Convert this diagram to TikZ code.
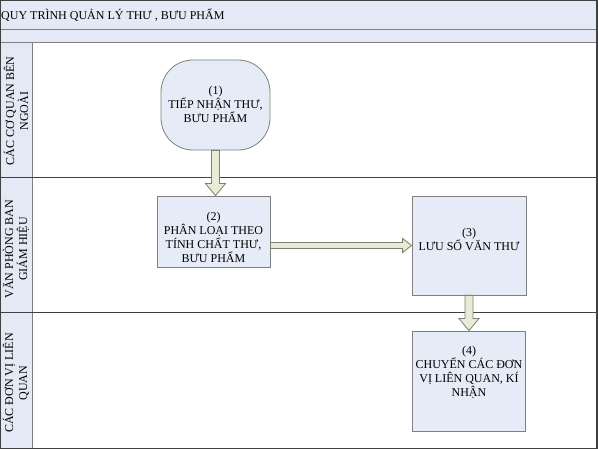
\documentclass[tikz,border=0pt]{standalone}
\usepackage{fontspec}
\setmainfont{Liberation Serif}
\usetikzlibrary{calc}
\definecolor{bandfill}{HTML}{E4EAF5}
\definecolor{boxfill}{HTML}{E6ECF7}
\definecolor{boxdraw}{HTML}{7F7F7F}
\definecolor{arrfill}{HTML}{E8ECD6}
\definecolor{arrdraw}{HTML}{7F7F72}
\definecolor{linecol}{HTML}{404040}
\tikzset{
  txt/.style={font=\fontsize{12}{14}\selectfont, align=center, text=black},
  procbox/.style={draw=boxdraw, fill=boxfill, line width=0.8pt, inner sep=2pt},
  blockarrow/.style={draw=arrdraw, fill=arrfill, line width=0.8pt, line join=miter},
  laneline/.style={draw=linecol, line width=1pt},
  heavyline/.style={draw=boxdraw, line width=1.6pt}
}
\newcommand\varrow[2]{\path[blockarrow] let \p1=(#1), \p2=(#2) in
  (\x1-4pt,\y1) -- (\x1-4pt,\y2+12pt) -- (\x1-10pt,\y2+12pt) -- (\x1,\y2) --
  (\x1+10pt,\y2+12pt) -- (\x1+4pt,\y2+12pt) -- (\x1+4pt,\y1) -- cycle;}
\newcommand\harrow[2]{\path[blockarrow] let \p1=(#1), \p2=(#2) in
  (\x1,\y1+3pt) -- (\x2-9pt,\y1+3pt) -- (\x2-9pt,\y1+7pt) -- (\x2,\y1) --
  (\x2-9pt,\y1-7pt) -- (\x2-9pt,\y1-3pt) -- (\x1,\y1-3pt) -- cycle;}
\begin{document}
\begin{tikzpicture}[x=1pt,y=-1pt]
\useasboundingbox (0,0) rectangle (598,449);
\fill[white] (0,0) rectangle (598,449);
% title bands
\fill[bandfill] (0,0) rectangle (597,29);
\fill[bandfill] (0,30) rectangle (597,42);
\fill[bandfill] (0,43) rectangle (32,449);
\node[txt, anchor=west, inner sep=0pt] (title) at (1,15) {QUY TRÌNH QUẢN LÝ THƯ , BƯU PHẨM};
\draw[heavyline] (0,29.5) -- (597,29.5);
\draw[heavyline] (0,42.5) -- (597,42.5);
\draw[heavyline] (32.5,43) -- (32.5,449);
\draw[laneline] (0,178) -- (597,178);
\draw[laneline] (0,313) -- (597,313);
\draw[linecol, line width=1.6pt] (597,0) -- (597,449);
\draw[linecol, line width=1pt] (0.5,0) -- (0.5,449);
\draw[linecol, line width=1pt] (0,0.5) -- (597,0.5);
\draw[linecol, line width=1pt] (0,448.5) -- (597,448.5);
% lane labels
\node[txt, rotate=90] (lane1) at (16,111) {CÁC CƠ QUAN BÊN\\NGOÀI};
\node[txt, rotate=90] (lane2) at (16,249) {VĂN PHÒNG BAN\\GIÁM HIỆU};
\node[txt, rotate=90] (lane3) at (16,383) {CÁC ĐƠN VỊ LIÊN\\QUAN};
% process nodes
\node[procbox, rounded corners=32pt, minimum width=109pt, minimum height=90pt] (n1) at (215.5,105) {};
\node[txt] (n1t) at (215.5,104) {(1)\\TIẾP NHẬN THƯ,\\BƯU PHẨM};
\node[procbox, minimum width=113pt, minimum height=71pt] (n2) at (213.5,231.5) {};
\node[txt] (n2t) at (213.5,237.5) {(2)\\PHÂN LOẠI THEO\\TÍNH CHẤT THƯ,\\BƯU PHẨM};
\node[procbox, minimum width=114pt, minimum height=99pt] (n3) at (469,245.5) {};
\node[txt] (n3t) at (469,239.5) {(3)\\LƯU SỔ VĂN THƯ};
\node[procbox, minimum width=113pt, minimum height=100pt] (n4) at (469,381) {};
\node[txt] (n4t) at (469,372) {(4)\\CHUYỂN CÁC ĐƠN\\VỊ LIÊN QUAN, KÍ\\NHẬN};
% connectors
\varrow{n1.south}{n2.north}
\harrow{$(n2.east |- n3.west)$}{n3.west}
\varrow{n3.south}{n4.north}
\end{tikzpicture}
\end{document}
